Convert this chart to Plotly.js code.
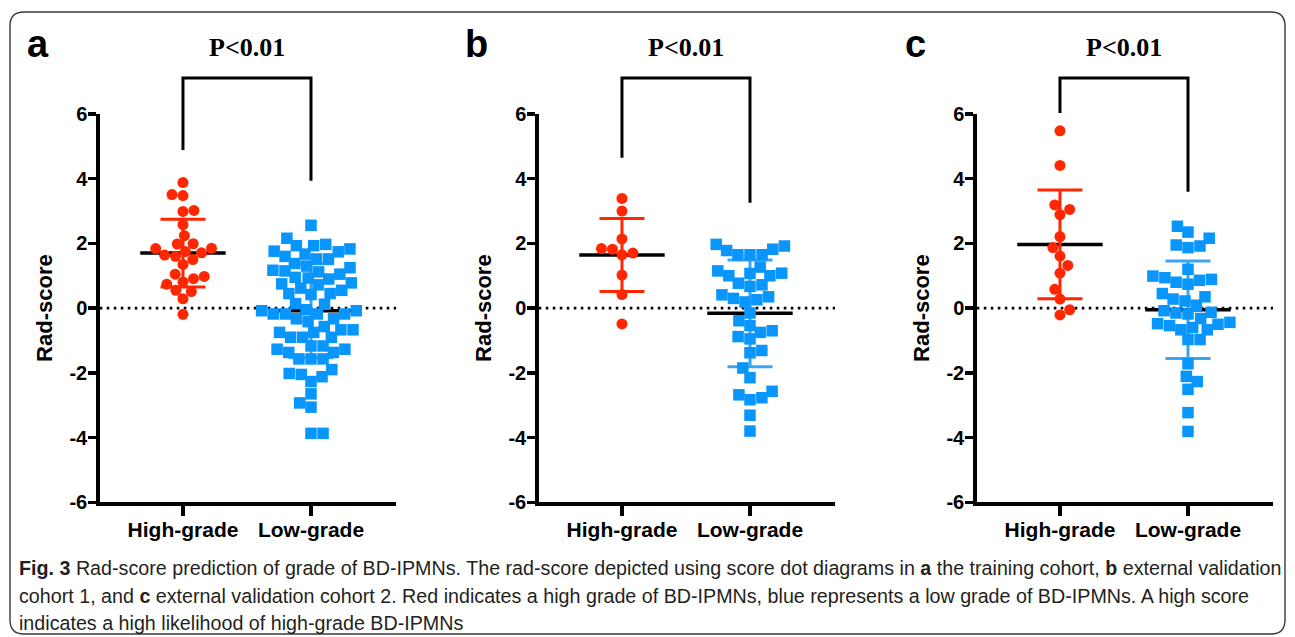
<!DOCTYPE html>
<html><head><meta charset="utf-8">
<script src="https://cdn.plot.ly/plotly-3.0.1.min.js"></script>
<style>html,body{margin:0;padding:0;background:#fff;overflow:hidden}</style>
</head><body><div id="chart" style="width:1295px;height:637px"></div>
<script>
// ---------- data ----------
const categories = ['High-grade', 'Low-grade'];
const yTicks = [-6, -4, -2, 0, 2, 4, 6];
const yTickText = ['-6', '-4', '-2', '0', '2', '4', '6'];
const panelLabels = ['a', 'b', 'c'];
const pText = 'P&lt;0.01';

const highA = [3.88,3.51,3.48,3.02,2.99,2.58,2.24,1.99,1.98,1.84,1.85,1.71,1.75,1.60,1.64,1.50,1.35,0.98,1.05,0.81,0.91,0.74,0.55,0.51,0.29,-0.19];
const lowA = [2.56,2.16,1.97,1.93,1.93,1.83,1.76,1.74,1.67,1.60,1.52,1.52,1.38,1.30,1.25,1.17,1.15,1.12,1.05,0.95,0.93,0.90,0.78,0.75,0.72,0.62,0.55,0.45,0.45,0.42,0.14,0.12,-0.05,-0.08,-0.08,-0.18,-0.18,-0.18,-0.18,-0.33,-0.33,-0.42,-0.57,-0.67,-0.67,-0.75,-0.75,-0.90,-0.90,-0.90,-1.17,-1.17,-1.27,-1.27,-1.37,-1.37,-1.57,-1.57,-1.57,-1.90,-2.02,-2.05,-2.12,-2.27,-2.65,-2.93,-3.06,-3.87,-3.87];
const highB = [3.39,3.00,2.14,1.84,1.70,1.65,1.82,1.02,0.42,-0.49];
const lowB = [1.97,1.92,1.82,1.78,1.65,1.65,1.65,1.27,1.15,1.08,1.07,1.00,1.00,0.77,0.72,0.67,0.41,0.35,0.30,0.26,0.19,-0.15,-0.39,-0.54,-0.70,-0.75,-0.88,-0.95,-1.31,-1.38,-1.85,-2.15,-2.57,-2.68,-2.77,-2.83,-3.31,-3.80];
const highC = [5.48,4.41,3.19,3.05,2.89,2.21,1.87,1.61,1.32,1.08,0.58,0.28,-0.05,-0.21];
const lowC = [2.53,2.35,2.16,1.95,1.92,1.87,1.20,0.99,0.94,0.89,0.86,0.80,0.74,0.45,0.35,0.28,0.22,0.09,-0.08,-0.13,-0.15,-0.18,-0.32,-0.44,-0.48,-0.50,-0.54,-0.60,-0.67,-0.67,-0.97,-0.97,-1.72,-2.11,-2.27,-2.51,-3.23,-3.81];

const meanHigh = [1.70, 1.64, 1.97];
const sdHigh = [1.05, 1.13, 1.68];
const meanLow = [-0.08, -0.16, -0.05];
const sdLow = [1.45, 1.65, 1.51];

const bracketTop = [7.11, 7.11, 7.11];
const bracketLeft = [4.89, 4.65, 6.03];
const bracketRight = [3.94, 3.26, 3.60];

const captionLines = [
  '<b>Fig. 3</b> Rad-score prediction of grade of BD-IPMNs. The rad-score depicted using score dot diagrams in <b>a</b> the training cohort, <b>b</b> external validation',
  'cohort 1, and <b>c</b> external validation cohort 2. Red indicates a high grade of BD-IPMNs, blue represents a low grade of BD-IPMNs. A high score',
  'indicates a high likelihood of high-grade BD-IPMNs'
];

const highSets = [highA, highB, highC];
const lowSets = [lowA, lowB, lowC];

// ---------- style / layout constants ----------
const RED = '#ff2600', BLUE = '#0895fc', BLUE_ERR = '#3aa5f3';
const W = 1295, H = 637;
const fx = p => p / W, fy = p => 1 - p / H;
const axisLeft = [98, 537, 975];
const LW = 3.5;
const plotW = 296.25;
const yTopPx = 114, yBotPx = 504 - LW / 2;
const xRange = [-0.65, 1.664];
const pxPerY = (yBotPx - yTopPx) / 12;
const pxPerX = plotW / (xRange[1] - xRange[0]);
const sansB = {family: 'Liberation Sans, Arial, sans-serif', weight: 'bold', color: '#000'};

// beeswarm offsets in px, derived from the values
function swarm(values, diam) {
  const idx = values.map((v, i) => i).sort((a, b) => values[a] - values[b]);
  const placed = [];
  const out = new Array(values.length);
  let toggle = 1;
  idx.forEach(i => {
    const y = values[i] * pxPerY;
    const iv = [];
    placed.forEach(p => {
      const dy = Math.abs(p.y - y);
      if (dy < diam) { const dx = Math.sqrt(diam * diam - dy * dy); iv.push([p.x - dx, p.x + dx]); }
    });
    const cands = [0];
    iv.forEach(v => cands.push(v[0], v[1]));
    cands.sort((a, b) => (Math.abs(a) - Math.abs(b)) || (toggle * (b - a)));
    let best = 0;
    for (const c of cands) {
      if (iv.every(v => c <= v[0] + 1e-6 || c >= v[1] - 1e-6)) { best = c; break; }
    }
    if (best !== 0) toggle = -toggle;
    placed.push({x: best, y});
    out[i] = best;
  });
  return out;
}

const data = [];
const layout = {
  width: W, height: H,
  margin: {l: 0, r: 0, t: 0, b: 0},
  paper_bgcolor: '#fff', plot_bgcolor: 'rgba(0,0,0,0)',
  showlegend: false,
  shapes: [], annotations: []
};

for (let i = 0; i < 3; i++) {
  const n = i + 1;
  const xs = n === 1 ? 'x' : 'x' + n;
  const ys = n === 1 ? 'y' : 'y' + n;
  const yb = 'y' + (n + 3);
  const xName = n === 1 ? 'xaxis' : 'xaxis' + n;
  const yName = n === 1 ? 'yaxis' : 'yaxis' + n;
  const ybName = 'yaxis' + (n + 3);
  const x0 = axisLeft[i] + LW / 2;

  layout[xName] = {
    domain: [fx(x0), fx(x0 + plotW)], range: xRange, anchor: ys,
    tickvals: [0, 1], ticktext: categories, ticks: 'outside', ticklen: 10, tickwidth: 3.5, tickcolor: '#000',
    showline: true, linewidth: LW, linecolor: '#000', showgrid: false, zeroline: false,
    tickfont: Object.assign({size: 21}, sansB), ticklabelstandoff: -4, fixedrange: true
  };
  layout[yName] = {
    domain: [fy(yBotPx), fy(yTopPx)], range: [-6, 6], anchor: xs,
    tickvals: yTicks, ticktext: yTickText, ticks: 'outside', ticklen: 8, tickwidth: 3.5, tickcolor: '#000',
    showline: true, linewidth: LW, linecolor: '#000', showgrid: false, zeroline: false,
    tickfont: Object.assign({size: 20}, sansB), ticklabelstandoff: -3,
    title: {text: 'Rad-score', font: Object.assign({size: 22}, sansB), standoff: 12},
    fixedrange: true
  };
  const vAt = p => 6 - (p - yTopPx) / pxPerY;
  layout[ybName] = {
    domain: [fy(340), fy(40)], range: [vAt(340), vAt(40)], anchor: xs,
    visible: false, fixedrange: true
  };

  // zero dotted line
  layout.shapes.push({
    type: 'line', xref: xs + ' domain', yref: ys, x0: 0, x1: 1, y0: 0, y1: 0,
    layer: 'below', line: {color: '#000', width: 2.6, dash: '2.6px,4.4px'}
  });

  const groups = [
    {vals: highSets[i], cat: 0, color: RED, err: RED, sym: 'circle', size: 11, gap: 1.0, mean: meanHigh[i], sd: sdHigh[i]},
    {vals: lowSets[i], cat: 1, color: BLUE, err: BLUE_ERR, sym: 'square', size: 11.5, gap: 1.05, mean: meanLow[i], sd: sdLow[i]}
  ];
  groups.forEach(g => {
    // mean line
    data.push({
      type: 'scatter', mode: 'markers', x: [g.cat], y: [g.mean], xaxis: xs, yaxis: ys,
      marker: {symbol: 'line-ew', size: 61, line: {color: '#000', width: 3.5}},
      hoverinfo: 'skip'
    });
    // SD error bar
    data.push({
      type: 'scatter', mode: 'markers', x: [g.cat], y: [g.mean], xaxis: xs, yaxis: ys,
      marker: {size: 1, opacity: 0},
      error_y: {type: 'data', array: [g.sd], visible: true, color: g.err, thickness: 3, width: 22.5},
      hoverinfo: 'skip'
    });
    const offs = swarm(g.vals, g.size * g.gap);
    data.push({
      type: 'scatter', mode: 'markers', xaxis: xs, yaxis: ys,
      x: offs.map(o => g.cat + o / pxPerX), y: g.vals,
      marker: {symbol: g.sym, size: g.size, color: g.color, line: {width: 0}},
      cliponaxis: false, hoverinfo: 'y'
    });
  });

  // significance bracket
  data.push({
    type: 'scatter', mode: 'lines', xaxis: xs, yaxis: yb,
    x: [0, 0, 1, 1], y: [bracketLeft[i], bracketTop[i], bracketTop[i], bracketRight[i]],
    line: {color: '#000', width: 3}, hoverinfo: 'skip'
  });
  layout.annotations.push({
    xref: xs, yref: 'paper', x: 0.5, y: fy(47), xanchor: 'center', yanchor: 'middle',
    text: '<b>' + pText + '</b>', showarrow: false,
    font: {family: 'Liberation Serif, Times New Roman, serif', size: 26, color: '#000'}
  });
  // panel letter
  layout.annotations.push({
    xref: 'paper', yref: 'paper', x: fx([38, 476, 915][i]), y: fy(44), xanchor: 'center', yanchor: 'middle',
    text: '<b>' + panelLabels[i] + '</b>', showarrow: false,
    font: Object.assign({size: 38}, sansB)
  });
}

// caption
const capY = [568, 596, 623];
captionLines.forEach((t, k) => {
  layout.annotations.push({
    xref: 'paper', yref: 'paper', x: fx(17), y: fy(capY[k]), xanchor: 'left', yanchor: 'middle',
    text: t, showarrow: false, align: 'left',
    font: {family: 'Liberation Sans, Arial, sans-serif', size: 19.7, color: '#231f20'}
  });
});

// rounded frame
(function () {
  const l = 10, t = 12, r = 1285, b = 634, rad = 14;
  const X = p => fx(p).toFixed(5), Y = p => fy(p).toFixed(5);
  const path = 'M' + X(l + rad) + ',' + Y(t) + ' L' + X(r - rad) + ',' + Y(t) +
    ' Q' + X(r) + ',' + Y(t) + ' ' + X(r) + ',' + Y(t + rad) +
    ' L' + X(r) + ',' + Y(b - rad) + ' Q' + X(r) + ',' + Y(b) + ' ' + X(r - rad) + ',' + Y(b) +
    ' L' + X(l + rad) + ',' + Y(b) + ' Q' + X(l) + ',' + Y(b) + ' ' + X(l) + ',' + Y(b - rad) +
    ' L' + X(l) + ',' + Y(t + rad) + ' Q' + X(l) + ',' + Y(t) + ' ' + X(l + rad) + ',' + Y(t) + ' Z';
  layout.shapes.push({type: 'path', xref: 'paper', yref: 'paper', path: path, line: {color: '#3a3a3a', width: 1.4}});
})();

Plotly.newPlot('chart', data, layout, {staticPlot: true, displayModeBar: false});
</script></body></html>
